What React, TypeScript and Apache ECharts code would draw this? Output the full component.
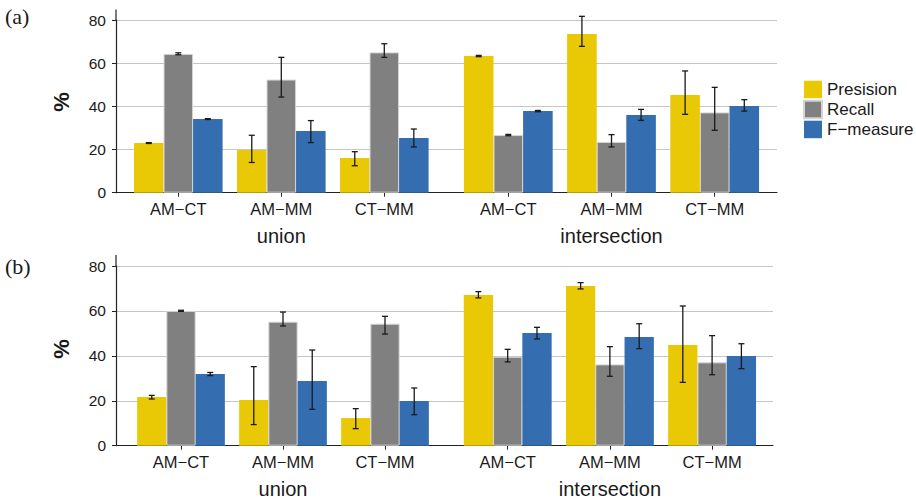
import React, { useEffect, useRef } from "react";
import * as echarts from "echarts";

// ---------- data ----------
const categories = ["AM\u2212CT", "AM\u2212MM", "CT\u2212MM"];
const metrics = ["Presision", "Recall", "F\u2212measure"];
const groupNames = ["union", "intersection"];
const yTickValues = [0, 20, 40, 60, 80];

// Panel (a)
const aUnionPrecision = [23.0, 19.8, 16.1];
const aUnionRecall = [64.3, 52.4, 65.0];
const aUnionFmeasure = [34.1, 28.6, 25.3];
const aUnionPrecisionErr = [[22.8, 23.2], [14.0, 26.6], [12.5, 19.0]];
const aUnionRecallErr = [[63.9, 64.8], [44.3, 62.7], [62.7, 69.0]];
const aUnionFmeasureErr = [[33.9, 34.3], [23.2, 33.4], [21.2, 29.5]];

const aInterPrecision = [63.3, 73.5, 45.3];
const aInterRecall = [26.7, 23.5, 37.2];
const aInterFmeasure = [37.8, 36.0, 40.2];
const aInterPrecisionErr = [[63.0, 63.6], [67.8, 81.7], [36.3, 56.4]];
const aInterRecallErr = [[26.4, 27.0], [21.2, 26.9], [28.9, 48.8]];
const aInterFmeasureErr = [[37.5, 38.1], [33.5, 38.6], [37.8, 43.1]];

// Panel (b)
const bUnionPrecision = [21.7, 20.3, 12.3];
const bUnionRecall = [60.0, 55.2, 54.3];
const bUnionFmeasure = [31.9, 28.8, 19.9];
const bUnionPrecisionErr = [[20.8, 22.4], [9.4, 35.2], [7.6, 16.5]];
const bUnionRecallErr = [[59.8, 60.3], [53.3, 59.5], [49.7, 57.6]];
const bUnionFmeasureErr = [[31.2, 32.6], [16.2, 42.6], [13.8, 25.7]];

const bInterPrecision = [67.1, 71.1, 44.8];
const bInterRecall = [39.6, 36.2, 37.1];
const bInterFmeasure = [50.2, 48.4, 39.9];
const bInterPrecisionErr = [[65.8, 68.6], [69.8, 72.6], [28.2, 62.2]];
const bInterRecallErr = [[37.3, 42.9], [30.9, 44.1], [31.6, 49.0]];
const bInterFmeasureErr = [[47.5, 52.7], [43.2, 54.3], [34.3, 45.4]];

// ---------- styling / layout ----------
const FONT = "Liberation Sans, Arial, Helvetica, sans-serif";
const COLORS = ["#E9C805", "#808080", "#346EB0"];
const TEXT = "#1a1a1a";
const AXIS = "#222222";
const GRIDLINE = "#c6c6c6";
const GAP = 0.14;

const panels = [
  {
    tag: "(a)",
    tagY: 16,
    pctY: 102,
    top: 20,
    height: 172.7,
    axisTopPx: 9.5,
    bgLeft: 116,
    bgWidth: 661,
    groupBoxes: [
      { left: 126.8, width: 309 },
      { left: 456.7, width: 309.6 },
    ],
    values: [
      [aUnionPrecision, aUnionRecall, aUnionFmeasure],
      [aInterPrecision, aInterRecall, aInterFmeasure],
    ],
    errs: [
      [aUnionPrecisionErr, aUnionRecallErr, aUnionFmeasureErr],
      [aInterPrecisionErr, aInterRecallErr, aInterFmeasureErr],
    ],
  },
  {
    tag: "(b)",
    tagY: 266,
    pctY: 349,
    top: 266,
    height: 179.7,
    axisTopPx: 255,
    bgLeft: 116,
    bgWidth: 657,
    groupBoxes: [
      { left: 130, width: 306 },
      { left: 456.6, width: 306.6 },
    ],
    values: [
      [bUnionPrecision, bUnionRecall, bUnionFmeasure],
      [bInterPrecision, bInterRecall, bInterFmeasure],
    ],
    errs: [
      [bUnionPrecisionErr, bUnionRecallErr, bUnionFmeasureErr],
      [bInterPrecisionErr, bInterRecallErr, bInterFmeasureErr],
    ],
  },
];

function buildOption() {
  const grid: any[] = [];
  const xAxis: any[] = [];
  const yAxis: any[] = [];
  const series: any[] = [];
  const graphic: any[] = [];
  const yMax = yTickValues[yTickValues.length - 1];

  panels.forEach((p) => {
    // background grid: y axis, gridlines, x axis line
    const bgIndex = grid.length;
    grid.push({
      left: p.bgLeft,
      width: p.bgWidth,
      top: p.top,
      height: p.height,
      containLabel: false,
      outerBoundsMode: "none",
    });
    xAxis.push({
      type: "value",
      gridIndex: bgIndex,
      min: 0,
      max: 1,
      axisLine: { show: true, onZero: false, lineStyle: { color: AXIS, width: 1.2 } },
      axisTick: { show: false },
      axisLabel: { show: false },
      splitLine: { show: false },
    });
    yAxis.push({
      type: "value",
      gridIndex: bgIndex,
      min: 0,
      max: yMax,
      interval: 20,
      axisLine: { show: true, lineStyle: { color: AXIS, width: 1.2 } },
      axisTick: { show: true, length: 4, lineStyle: { color: AXIS, width: 1 } },
      axisLabel: { fontSize: 15.5, fontFamily: FONT, color: TEXT, margin: 10 },
      splitLine: { show: true, lineStyle: { color: GRIDLINE, width: 1 } },
    });
    // extension of y-axis line above 80 (ggplot expansion)
    graphic.push({
      type: "line",
      shape: { x1: p.bgLeft, y1: p.axisTopPx, x2: p.bgLeft, y2: p.top + 0.5 },
      style: { stroke: AXIS, lineWidth: 1.2 },
      silent: true,
    });

    p.groupBoxes.forEach((box, gi) => {
      const gIndex = grid.length;
      grid.push({
        left: box.left,
        width: box.width,
        top: p.top,
        height: p.height,
        containLabel: false,
        outerBoundsMode: "none",
      });
      xAxis.push({
        type: "category",
        gridIndex: gIndex,
        data: categories,
        axisLine: { show: false },
        axisTick: { show: true, alignWithLabel: true, length: 4, lineStyle: { color: AXIS, width: 1 } },
        axisLabel: { fontSize: 16.5, fontFamily: FONT, color: TEXT, margin: 8 },
        splitLine: { show: false },
        name: groupNames[gi],
        nameLocation: "middle",
        nameGap: 33,
        nameTextStyle: { fontSize: 20, fontFamily: FONT, color: TEXT },
      });
      yAxis.push({
        type: "value",
        gridIndex: gIndex,
        min: 0,
        max: yMax,
        show: false,
      });
      const vals = p.values[gi];
      const errs = p.errs[gi];
      metrics.forEach((m, mi) => {
        series.push({
          type: "bar",
          name: m,
          xAxisIndex: gIndex,
          yAxisIndex: gIndex,
          data: vals[mi],
          barGap: "0%",
          barCategoryGap: GAP * 100 + "%",
          itemStyle:
            mi === 1
              ? { color: COLORS[mi], borderColor: "#d4d4d4", borderWidth: 1 }
              : { color: COLORS[mi] },
          z: 2,
          silent: true,
        });
      });
      const errData: number[][] = [];
      metrics.forEach((_m, mi) => {
        errs[mi].forEach((e, ci) => errData.push([ci, e[0], e[1], mi]));
      });
      series.push({
        type: "custom",
        xAxisIndex: gIndex,
        yAxisIndex: gIndex,
        data: errData,
        z: 5,
        silent: true,
        encode: { x: 0, y: [1, 2] },
        renderItem: (params: any, api: any) => {
          const ci = api.value(0);
          const lo = api.value(1);
          const hi = api.value(2);
          const mi = api.value(3);
          const band = api.size([1, 0])[0];
          const barW = (band * (1 - GAP)) / 3;
          const pLo = api.coord([ci, lo]);
          const pHi = api.coord([ci, hi]);
          const x = pLo[0] + (mi - 1) * barW;
          const cap = 3;
          const st = { stroke: "#1a1a1a", lineWidth: 1.3 };
          return {
            type: "group",
            children: [
              { type: "line", shape: { x1: x, y1: pLo[1], x2: x, y2: pHi[1] }, style: st },
              { type: "line", shape: { x1: x - cap, y1: pLo[1], x2: x + cap, y2: pLo[1] }, style: st },
              { type: "line", shape: { x1: x - cap, y1: pHi[1], x2: x + cap, y2: pHi[1] }, style: st },
            ],
          };
        },
      });
    });

    graphic.push({
      type: "text",
      x: 5,
      y: p.tagY,
      style: {
        text: p.tag,
        fontSize: 22,
        fontFamily: "Liberation Serif, Times New Roman, serif",
        fill: TEXT,
        align: "left",
        verticalAlign: "middle",
      },
      silent: true,
    });
    graphic.push({
      type: "text",
      x: 61,
      y: p.pctY,
      rotation: Math.PI / 2,
      style: {
        text: "%",
        fontSize: 22,
        fontWeight: "bold",
        fontFamily: FONT,
        fill: TEXT,
        align: "center",
        verticalAlign: "middle",
      },
      silent: true,
    });
  });

  return {
    animation: false,
    backgroundColor: "#ffffff",
    legend: {
      data: metrics,
      orient: "vertical",
      left: 798,
      top: 75.7,
      itemWidth: 18,
      itemHeight: 17.5,
      itemGap: 1.5,
      icon: "rect",
      selectedMode: false,
      textStyle: { fontSize: 17, fontFamily: FONT, color: TEXT },
    },
    grid,
    xAxis,
    yAxis,
    series,
    graphic,
  };
}

export default function App() {
  const ref = useRef<HTMLDivElement>(null);
  useEffect(() => {
    if (!ref.current) return;
    const chart = echarts.init(ref.current, undefined, { renderer: "svg" });
    chart.setOption(buildOption() as any);
    return () => chart.dispose();
  }, []);
  return (
    <div
      ref={ref}
      style={{ position: "fixed", left: 0, top: 0, width: 916, height: 500, background: "#fff" }}
    />
  );
}
